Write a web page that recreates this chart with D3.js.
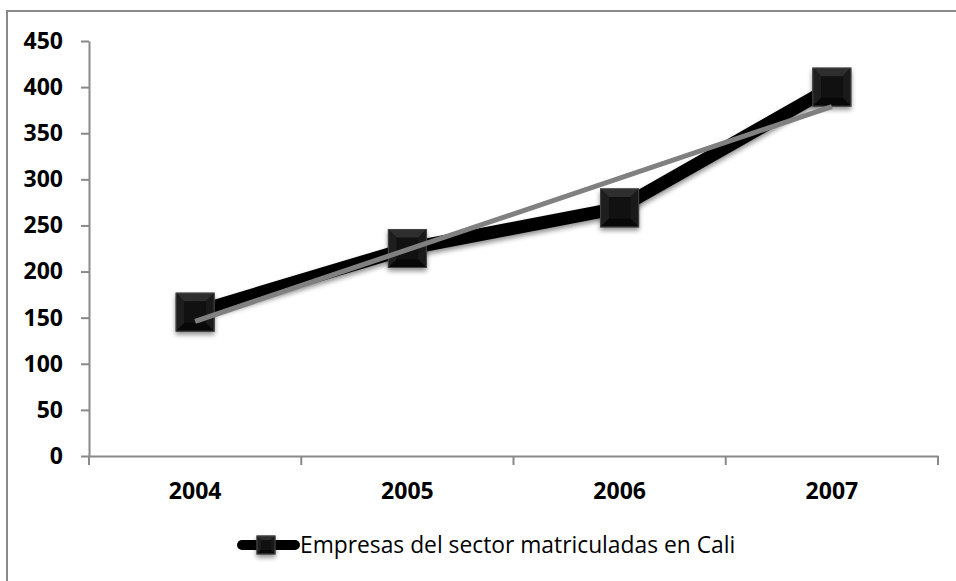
<!DOCTYPE html>
<html><head><meta charset="utf-8">
<script src="https://cdn.jsdelivr.net/npm/d3@7"></script>
<style>body{margin:0;background:#fff}svg{display:block}</style>
</head><body>
<svg id="c" width="956" height="581"></svg>
<script>
const categories = ["2004","2005","2006","2007"];
const values = [156, 225, 269, 400];
const yTicks = [0,50,100,150,200,250,300,350,400,450];
const seriesName = "Empresas del sector matriculadas en Cali";

const svg = d3.select("#c");
const m = {l:89, t:41, r:938, b:456};

// outer border
svg.append("rect").attr("x",7).attr("y",11).attr("width",1000).attr("height",700)
  .attr("fill","#fff").attr("stroke","#898989").attr("stroke-width",2);

const defs = svg.append("defs");
const f = defs.append("filter").attr("id","sh").attr("x","-50%").attr("y","-50%").attr("width","200%").attr("height","200%");
f.append("feGaussianBlur").attr("in","SourceAlpha").attr("stdDeviation",2.5);
f.append("feOffset").attr("dx",0).attr("dy",3).attr("result","b");
f.append("feComponentTransfer").append("feFuncA").attr("type","linear").attr("slope",0.45);
const mg = f.append("feMerge"); mg.append("feMergeNode"); mg.append("feMergeNode").attr("in","SourceGraphic");

const x = d3.scaleBand().domain(categories).range([m.l, m.r]).padding(0);
const y = d3.scaleLinear().domain([0,450]).range([m.b, m.t]);

const font = "'Open Sans', 'Liberation Sans', sans-serif";

// y axis
const ya = svg.append("g").attr("transform",`translate(${m.l},0)`)
  .call(d3.axisLeft(y).tickValues(yTicks).tickSize(8).tickPadding(18).tickSizeOuter(0));
ya.select(".domain").attr("stroke","#898989").attr("stroke-width",2);
ya.selectAll(".tick line").attr("stroke","#898989").attr("stroke-width",2);
ya.selectAll(".tick text").attr("font-family",font).attr("font-weight","bold")
  .attr("font-size","23px").attr("fill","#000");

// x axis
const xa = svg.append("g").attr("transform",`translate(0,${m.b})`)
  .call(d3.axisBottom(x).tickSize(0).tickPadding(27).tickSizeOuter(0));
xa.select(".domain").attr("stroke","#898989").attr("stroke-width",2);
xa.selectAll(".tick text").attr("font-family",font).attr("font-weight","bold")
  .attr("font-size","23px").attr("fill","#000");
const bounds = categories.map(c => x(c)).concat([m.r]);
xa.selectAll(".bt").data(bounds).enter().append("line")
  .attr("x1",d=>d).attr("x2",d=>d).attr("y1",0).attr("y2",9)
  .attr("stroke","#898989").attr("stroke-width",2);

const cx = c => x(c) + x.bandwidth()/2;
const pts = categories.map((c,i)=>[cx(c), y(values[i])]);

// series line
svg.append("path").attr("d", d3.line()(pts)).attr("fill","none")
  .attr("stroke","#000").attr("stroke-width",13).attr("stroke-linejoin","miter")
  .attr("filter","url(#sh)");

// linear trendline (least squares over category index)
const n = values.length;
const xs = values.map((_,i)=>i+1);
const mx = d3.mean(xs), my = d3.mean(values);
const slope = d3.sum(xs.map((xi,i)=>(xi-mx)*(values[i]-my))) / d3.sum(xs.map(xi=>(xi-mx)**2));
const icpt = my - slope*mx;
const trend = [[cx(categories[0]), y(icpt+slope*1)], [cx(categories[n-1]), y(icpt+slope*n)]];

function marker(g, px, py, s){
  const h = s/2;
  const grp = g.append("g").attr("transform",`translate(${px},${py})`);
  grp.append("rect").attr("x",-h).attr("y",-h).attr("width",s).attr("height",s)
    .attr("fill","#0c0c0c").attr("stroke","#3a3a3a").attr("stroke-width",1).attr("filter","url(#sh)");
  const b = s*0.22;
  grp.append("polygon").attr("points",`${-h},${-h} ${h},${-h} ${h-b},${-h+b} ${-h+b},${-h+b}`).attr("fill","#2e2e2e");
  grp.append("polygon").attr("points",`${-h},${-h} ${-h+b},${-h+b} ${-h+b},${h-b} ${-h},${h}`).attr("fill","#1e1e1e");
  grp.append("polygon").attr("points",`${h},${-h} ${h},${h} ${h-b},${h-b} ${h-b},${-h+b}`).attr("fill","#1a1a1a");
  grp.append("polygon").attr("points",`${-h},${h} ${h},${h} ${h-b},${h-b} ${-h+b},${h-b}`).attr("fill","#080808");
  grp.append("rect").attr("x",-h+b).attr("y",-h+b).attr("width",s-2*b).attr("height",s-2*b).attr("fill","#111");
  grp.append("rect").attr("x",-h).attr("y",-h).attr("width",s).attr("height",s)
    .attr("fill","none").attr("stroke","#444").attr("stroke-width",1);
}
const mk = svg.append("g");
pts.forEach(p => marker(mk, p[0], p[1], 38));

svg.append("path").attr("d", d3.line()(trend)).attr("fill","none")
  .attr("stroke","#808080").attr("stroke-width",5);

// legend
const ly = 545;
svg.append("line").attr("x1",242).attr("x2",295).attr("y1",ly).attr("y2",ly)
  .attr("stroke","#000").attr("stroke-width",10).attr("stroke-linecap","round");
marker(svg, 266, ly, 18);
svg.append("text").attr("x",300).attr("y",ly+8).attr("font-family",font)
  .attr("font-size","22.8px").attr("fill","#000").text(seriesName);
</script>
</body></html>
